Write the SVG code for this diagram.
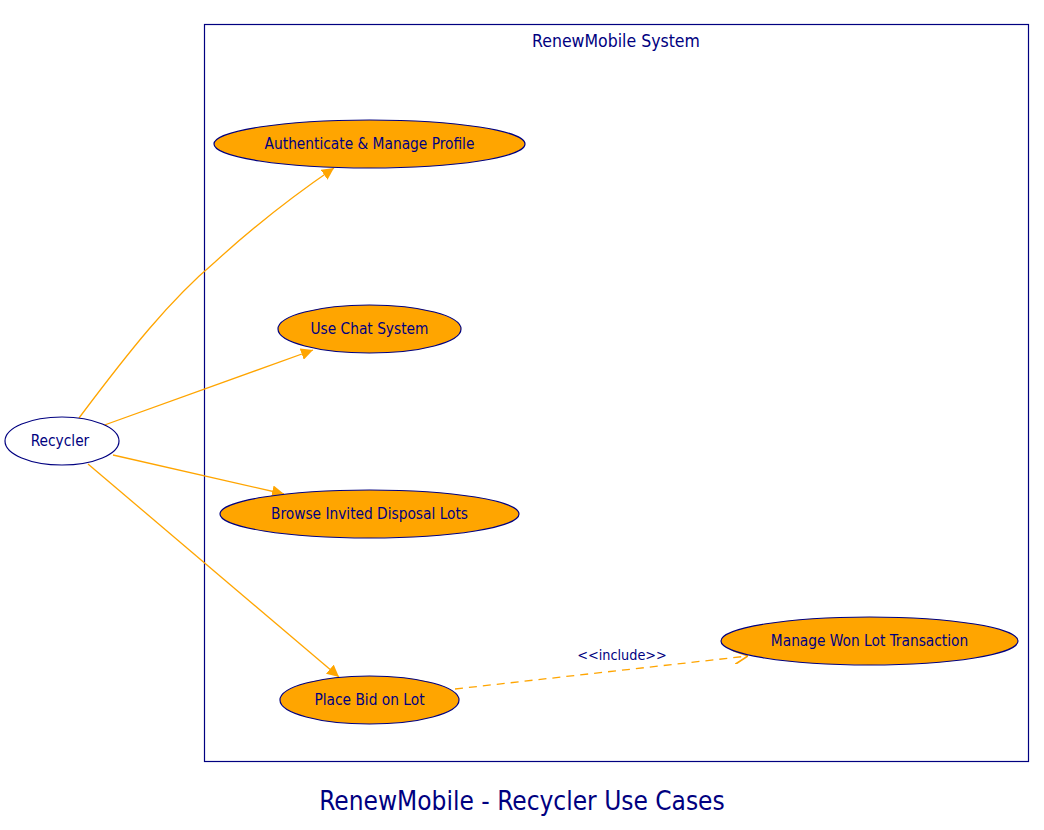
<svg xmlns="http://www.w3.org/2000/svg" width="1044" height="830" viewBox="0 0 1044 830">
<defs>
<style>
.uc{fill:#FFA500;stroke:#000080;stroke-width:1.2}
.actor{fill:#ffffff;stroke:#000080;stroke-width:1.2}
.lbl{font-family:"DejaVu Sans Condensed","DejaVu Sans",sans-serif;font-size:15.3px;fill:#000080;text-anchor:middle;dominant-baseline:central}
.edge{fill:none;stroke:#FFA500;stroke-width:1.3}
.dash{fill:none;stroke:#FFA500;stroke-width:1.3;stroke-dasharray:8,6}
</style>
<marker id="arr" viewBox="0 0 10 10" refX="10" refY="5" markerWidth="12" markerHeight="12" markerUnits="userSpaceOnUse" orient="auto">
<path d="M0,0 L10,5 L0,10 z" fill="#FFA500"/>
</marker>
<marker id="open" viewBox="0 0 10 10" refX="10" refY="5" markerWidth="14" markerHeight="14" markerUnits="userSpaceOnUse" orient="auto">
<path d="M0,0 L10,5 L0,10" fill="none" stroke="#FFA500" stroke-width="1.2"/>
</marker>
</defs>
<rect width="1044" height="830" fill="#ffffff"/>
<g id="system">
<rect x="204.5" y="24.5" width="824" height="737" fill="none" stroke="#000080" stroke-width="1.2"/>
<text x="616" y="41" class="lbl" style="font-size:17.5px">RenewMobile System</text>
</g>
<g id="connectors">
<path class="edge" d="M79,418 C130,350 170,300 215,262 C250,230 290,198 334,168" marker-end="url(#arr)"/>
<path class="edge" d="M99,427 L313,350" marker-end="url(#arr)"/>
<path class="edge" d="M113,455 L284,494" marker-end="url(#arr)"/>
<path class="edge" d="M88,464 L339,677" marker-end="url(#arr)"/>
<path class="dash" d="M455,689 L748,656" marker-end="url(#open)"/>
<text x="622" y="655" class="lbl" style="font-size:14.3px">&lt;&lt;include&gt;&gt;</text>
</g>
<g id="recycler">
<ellipse class="actor" cx="62" cy="441" rx="57" ry="24"/>
<text x="60" y="441" class="lbl">Recycler</text>
</g>
<g id="uc-auth">
<ellipse class="uc" cx="369.5" cy="144" rx="155.5" ry="24"/>
<text x="369.5" y="144" class="lbl">Authenticate &amp; Manage Profile</text>
</g>
<g id="uc-chat">
<ellipse class="uc" cx="369.5" cy="329" rx="91.5" ry="24"/>
<text x="369.5" y="329" class="lbl">Use Chat System</text>
</g>
<g id="uc-browse">
<ellipse class="uc" cx="369.5" cy="514" rx="149.5" ry="24"/>
<text x="369.5" y="514" class="lbl">Browse Invited Disposal Lots</text>
</g>
<g id="uc-bid">
<ellipse class="uc" cx="369.5" cy="700" rx="89.5" ry="24"/>
<text x="369.5" y="700" class="lbl">Place Bid on Lot</text>
</g>
<g id="uc-manage">
<ellipse class="uc" cx="869.5" cy="641" rx="148.5" ry="24"/>
<text x="869.5" y="641" class="lbl">Manage Won Lot Transaction</text>
</g>
<g id="title">
<text x="522" y="801" class="lbl" style="font-size:26px">RenewMobile - Recycler Use Cases</text>
</g>
</svg>
